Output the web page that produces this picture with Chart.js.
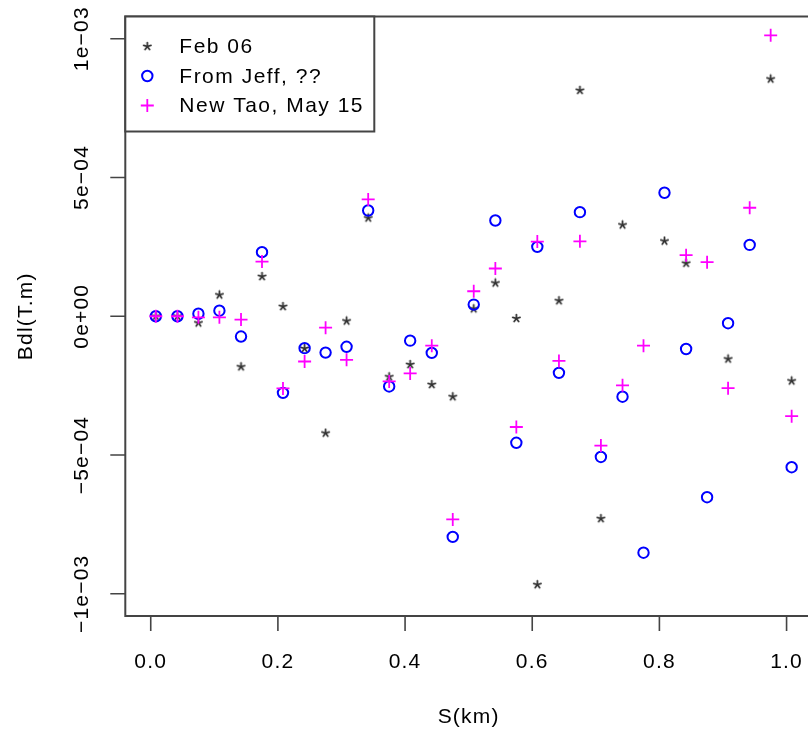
<!DOCTYPE html>
<html lang="en">
<head>
<meta charset="UTF-8">
<title>Bdl vs S</title>
<script src="https://cdn.jsdelivr.net/npm/chart.js"></script>
<style>
  html, body { margin: 0; padding: 0; overflow: hidden; background: #fff; }
  canvas { display: block; }
</style>
</head>
<body>
<canvas id="bdlChart" width="830" height="730"></canvas>
<script>
// positions along the line (km)
const sKm = [0.008, 0.042, 0.075, 0.108, 0.142, 0.175, 0.208, 0.242, 0.275, 0.308,
             0.342, 0.375, 0.408, 0.442, 0.475, 0.508, 0.542, 0.575, 0.608, 0.642,
             0.675, 0.708, 0.742, 0.775, 0.808, 0.842, 0.875, 0.908, 0.942, 0.975, 1.008];

// Bdl in units of 1e-3 T.m, null = no point shown
const feb06 = [0, 0, -0.024, 0.077, -0.182, 0.143, 0.035, -0.116, -0.421, -0.017,
               0.354, -0.218, -0.174, -0.246, -0.290, 0.027, 0.120, -0.008, -0.967, 0.056,
               0.814, -0.729, 0.329, null, 0.271, 0.191, null, -0.154, null, 0.855, -0.233];
const fromJeff = [0, 0, 0.009, 0.020, -0.073, 0.231, -0.276, -0.115, -0.131, -0.110,
                  0.381, -0.253, -0.088, -0.132, -0.795, 0.042, 0.345, -0.456, 0.250, -0.204,
                  0.375, -0.507, -0.290, -0.852, 0.445, -0.118, -0.652, -0.025, 0.257, null, -0.544];
const newTao = [0, 0, -0.004, -0.004, -0.012, 0.197, -0.260, -0.163, -0.041, -0.157,
                0.421, -0.235, -0.206, -0.106, -0.732, 0.090, 0.172, -0.399, 0.269, -0.161,
                0.270, -0.466, -0.249, -0.106, null, 0.220, 0.195, -0.259, 0.391, 1.012, -0.360];

const seriesNames = ['Feb 06', 'From Jeff, ??', 'New Tao, May 15'];
const xTicks = [0, 0.2, 0.4, 0.6, 0.8, 1.0];
const xTickLabels = ['0.0', '0.2', '0.4', '0.6', '0.8', '1.0'];
const yTicks = [1e-3, 5e-4, 0, -5e-4, -1e-3];
const yTickLabels = ['1e\u221203', '5e\u221204', '0e+00', '\u22125e\u221204', '\u22121e\u221203'];

function toPoints(vals) {
    return sKm.map((s, i) => vals[i] === null ? null : { x: s, y: vals[i] * 1e-3 })
              .filter(p => p !== null);
}

// small asterisk like R's pch="*"
function makeStar() {
    const c = document.createElement('canvas');
    c.width = 11; c.height = 11;
    const g = c.getContext('2d');
    g.strokeStyle = '#333';
    g.lineWidth = 1.8;
    g.lineCap = 'round';
    for (let k = 0; k < 5; k++) {
        const a = -Math.PI / 2 + k * 2 * Math.PI / 5;
        g.beginPath();
        g.moveTo(5.5, 5.5);
        g.lineTo(5.5 + 3.8 * Math.cos(a), 5.5 + 3.8 * Math.sin(a));
        g.stroke();
    }
    return c;
}

const FONT = '21px "Liberation Sans", Arial, sans-serif';

// box, R-style axes, labels and legend
const rAxes = {
    id: 'rAxes',
    afterDraw(chart) {
        const ctx = chart.ctx;
        const a = chart.chartArea;
        const xs = chart.scales.x, ys = chart.scales.y;
        ctx.save();
        ctx.strokeStyle = '#444';
        ctx.lineWidth = 2;
        ctx.strokeRect(a.left, a.top, a.right - a.left, a.bottom - a.top);

        ctx.lineWidth = 1.6;
        ctx.beginPath();
        xTicks.forEach(v => {
            const px = xs.getPixelForValue(v);
            ctx.moveTo(px, a.bottom);
            ctx.lineTo(px, a.bottom + 15);
        });
        yTicks.forEach(v => {
            const py = ys.getPixelForValue(v);
            ctx.moveTo(a.left, py);
            ctx.lineTo(a.left - 15, py);
        });
        ctx.stroke();

        ctx.fillStyle = '#000';
        ctx.font = FONT;
        if ('letterSpacing' in ctx) ctx.letterSpacing = '1.2px';
        ctx.textAlign = 'center';
        ctx.textBaseline = 'middle';
        xTicks.forEach((v, i) => {
            ctx.fillText(xTickLabels[i], xs.getPixelForValue(v), a.bottom + 46);
        });
        yTicks.forEach((v, i) => {
            ctx.save();
            ctx.translate(a.left - 43, ys.getPixelForValue(v));
            ctx.rotate(-Math.PI / 2);
            ctx.fillText(yTickLabels[i], 0, 0);
            ctx.restore();
        });
        ctx.fillText('S(km)', (a.left + a.right) / 2, a.bottom + 101);
        ctx.save();
        ctx.translate(a.left - 99, (a.top + a.bottom) / 2);
        ctx.rotate(-Math.PI / 2);
        ctx.fillText('Bdl(T.m)', 0, 0);
        ctx.restore();

        // legend box in the top-left corner
        const lx = a.left, ly = a.top, lw = 249, lh = 115;
        ctx.fillStyle = '#fff';
        ctx.fillRect(lx, ly, lw, lh);
        ctx.strokeStyle = '#444';
        ctx.lineWidth = 2;
        ctx.strokeRect(lx, ly, lw, lh);
        if ('letterSpacing' in ctx) ctx.letterSpacing = '1.5px';
        const rows = [30, 59.5, 89];
        chart.data.datasets.forEach((ds, i) => {
            const y = ly + rows[i];
            ctx.strokeStyle = ds.borderColor;
            ctx.fillStyle = 'rgba(0,0,0,0)';
            ctx.lineWidth = ds.borderWidth;
            Chart.helpers.drawPoint(ctx, {
                pointStyle: ds.pointStyle,
                radius: ds.pointRadius,
                borderWidth: ds.borderWidth,
                rotation: 0
            }, lx + 22, y);
            ctx.fillStyle = '#000';
            ctx.textAlign = 'left';
            ctx.fillText(seriesNames[i], lx + 54, y + 1);
        });
        ctx.restore();
    }
};

const ctx = document.getElementById('bdlChart').getContext('2d');
const bdlChart = new Chart(ctx, {
    type: 'scatter',
    data: {
        datasets: [{
            label: seriesNames[0],
            data: toPoints(feb06),
            pointStyle: makeStar(),
            pointRadius: 5,
            borderColor: '#333',
            backgroundColor: '#333',
            borderWidth: 1.8,
            order: 3
        }, {
            label: seriesNames[1],
            data: toPoints(fromJeff),
            pointStyle: 'circle',
            pointRadius: 5.2,
            borderColor: '#0000ff',
            backgroundColor: 'rgba(0,0,0,0)',
            borderWidth: 2,
            order: 2
        }, {
            label: seriesNames[2],
            data: toPoints(newTao),
            pointStyle: 'cross',
            pointRadius: 6.5,
            borderColor: '#ff00ff',
            backgroundColor: '#ff00ff',
            borderWidth: 1.8,
            order: 1
        }]
    },
    options: {
        responsive: false,
        animation: false,
        events: [],
        layout: { padding: { left: 125.3, top: 16.5, right: 18, bottom: 114 } },
        plugins: {
            legend: { display: false },
            tooltip: { enabled: false }
        },
        scales: {
            x: { type: 'linear', display: false, min: -0.04, max: 1.04 },
            y: { type: 'linear', display: false, min: -1.08e-3, max: 1.08e-3 }
        }
    },
    plugins: [rAxes]
});
</script>
</body>
</html>
